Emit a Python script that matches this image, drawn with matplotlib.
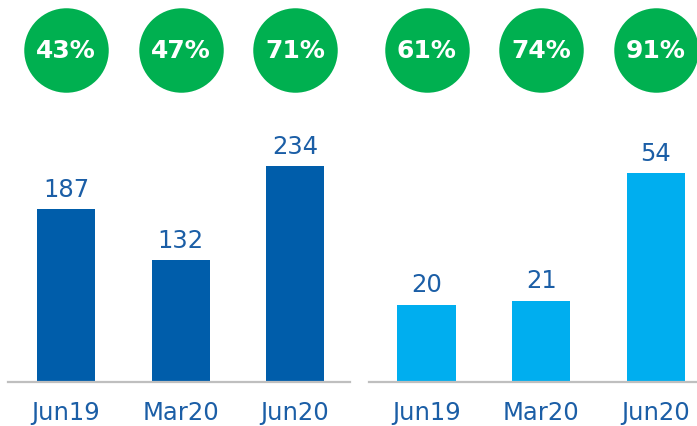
import matplotlib
matplotlib.use("Agg")
from matplotlib import pyplot as plt
import matplotlib.transforms as mtransforms

plt.rcParams['font.family'] = ['DejaVu Sans']

# data
categories = ["Jun19", "Mar20", "Jun20"]
left_values = [187, 132, 234]
left_pct = ["43%", "47%", "71%"]
right_values = [20, 21, 54]
right_pct = ["61%", "74%", "91%"]

dark_blue = "#005DAA"
light_blue = "#00AEEF"
green = "#00B050"
text_blue = "#1B5EA6"
line_grey = "#BFBFBF"

W, H = 697, 427
fig = plt.figure(figsize=(W / 100, H / 100), dpi=100)

def px_axes(x0, x1, y_base):
    # axes from pixel x0..x1, bottom at y_base (from top), top at figure top
    return fig.add_axes([x0 / W, (H - y_base) / H, (x1 - x0) / W, y_base / H])

def draw_panel(ax, values, pcts, color, xlim, ytop):
    x = list(range(len(categories)))
    ax.bar(x, values, width=0.507, color=color)
    for xi, v in zip(x, values):
        ax.annotate(str(v), (xi, v), xytext=(0, 6), textcoords="offset points",
                    ha="center", va="bottom", fontsize=17.5, color=text_blue)
    trans = mtransforms.blended_transform_factory(ax.transData, ax.transAxes)
    ax.scatter(x, [0.867] * len(x), s=3700, color=green, transform=trans,
               clip_on=False, zorder=5, linewidths=0)
    for xi, p in zip(x, pcts):
        ax.text(xi, 0.867, p, transform=trans, ha="center", va="center",
                fontsize=18, fontweight="bold", color="white", zorder=6)
    ax.set_xlim(*xlim)
    ax.set_ylim(0, ytop)
    ax.set_xticks(x)
    ax.set_xticklabels(categories, fontsize=17.5, color=text_blue)
    ax.tick_params(axis="x", length=0, pad=13)
    ax.set_yticks([])
    for s in ["top", "left", "right"]:
        ax.spines[s].set_visible(False)
    ax.spines["bottom"].set_color(line_grey)
    ax.spines["bottom"].set_linewidth(1.6)
    ax.patch.set_alpha(0)

ax1 = px_axes(8, 350, 383)
draw_panel(ax1, left_values, left_pct, dark_blue, (-0.507, 2.48), 415)

ax2 = px_axes(369, 697, 383)
draw_panel(ax2, right_values, right_pct, light_blue, (-0.502, 2.36), 99)

fig.savefig("out.png", dpi=100)
